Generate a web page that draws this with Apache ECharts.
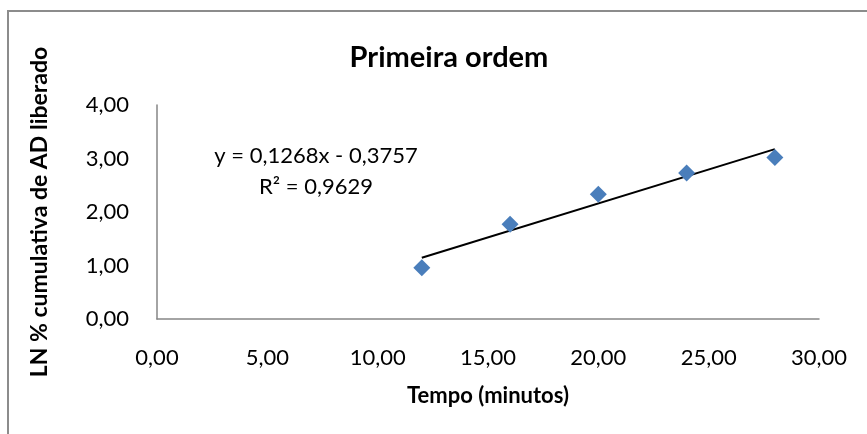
<!DOCTYPE html>
<html>
<head>
<meta charset="utf-8">
<script src="https://cdn.jsdelivr.net/npm/echarts@6/dist/echarts.min.js"></script>
<style>html,body{margin:0;padding:0;background:#fff}#c{width:867px;height:434px}</style>
</head>
<body>
<div id="c"></div>
<script>
const timeValues = [12, 16, 20, 24, 28];
const lnValues = [0.96, 1.77, 2.33, 2.73, 3.02];
const trendX = [12, 28];
const trendY = [1.146, 3.175];
const titleText = 'Primeira ordem';
const xName = 'Tempo (minutos)';
const yName = 'LN % cumulativa de AD liberado';
const equationLines = ['y = 0,1268x - 0,3757', 'R² = 0,9629'];

const FONT = 'Lato, "Open Sans", sans-serif';
const fmt = v => v.toFixed(2).replace('.', ',');

const chart = echarts.init(document.getElementById('c'), null, {renderer: 'canvas'});
chart.setOption({
  animation: false,
  backgroundColor: '#fff',
  title: {
    text: titleText, left: 444, top: 38, textAlign: 'center',
    textStyle: {fontFamily: FONT, fontWeight: 'bold', fontSize: 29, color: '#000'}
  },
  grid: {left: 157, right: 48, top: 105, bottom: 115, containLabel: false},
  xAxis: {
    type: 'value', min: 0, max: 30, interval: 5,
    name: xName, nameLocation: 'middle', nameGap: 66,
    nameTextStyle: {fontFamily: FONT, fontWeight: 'bold', fontSize: 22, color: '#000'},
    axisLine: {show: true, lineStyle: {color: '#868686', width: 1.5}},
    axisTick: {show: false},
    splitLine: {show: false},
    axisLabel: {formatter: fmt, fontFamily: FONT, fontSize: 22, color: '#000', margin: 28}
  },
  yAxis: {
    type: 'value', min: 0, max: 4, interval: 1,
    name: yName, nameLocation: 'middle', nameGap: 106, nameRotate: 90,
    nameTextStyle: {fontFamily: FONT, fontWeight: 'bold', fontSize: 23, color: '#000'},
    axisLine: {show: true, lineStyle: {color: '#868686', width: 1.5}},
    axisTick: {show: false},
    splitLine: {show: false},
    axisLabel: {formatter: fmt, fontFamily: FONT, fontSize: 22, color: '#000', margin: 28}
  },
  graphic: [
    {type: 'rect', shape: {x: 8, y: 11, width: 900, height: 500},
     style: {fill: 'none', stroke: '#8c8c8c', lineWidth: 2}, z: -1, silent: true},
    {type: 'text', x: 316, y: 140, style: {
      text: equationLines.join('\n'), font: '22px Lato, "Open Sans", sans-serif', fill: '#000',
      align: 'center', verticalAlign: 'top', lineHeight: 31}}
  ],
  series: [
    {
      type: 'line', data: trendX.map((x, i) => [x, trendY[i]]),
      symbol: 'none', lineStyle: {color: '#000', width: 2}, z: 2
    },
    {
      type: 'scatter', data: timeValues.map((x, i) => [x, lnValues[i]]),
      symbol: 'diamond', symbolSize: [17, 17],
      itemStyle: {color: '#4a7ebb', opacity: 1}, z: 3
    }
  ]
});
</script>
</body>
</html>
